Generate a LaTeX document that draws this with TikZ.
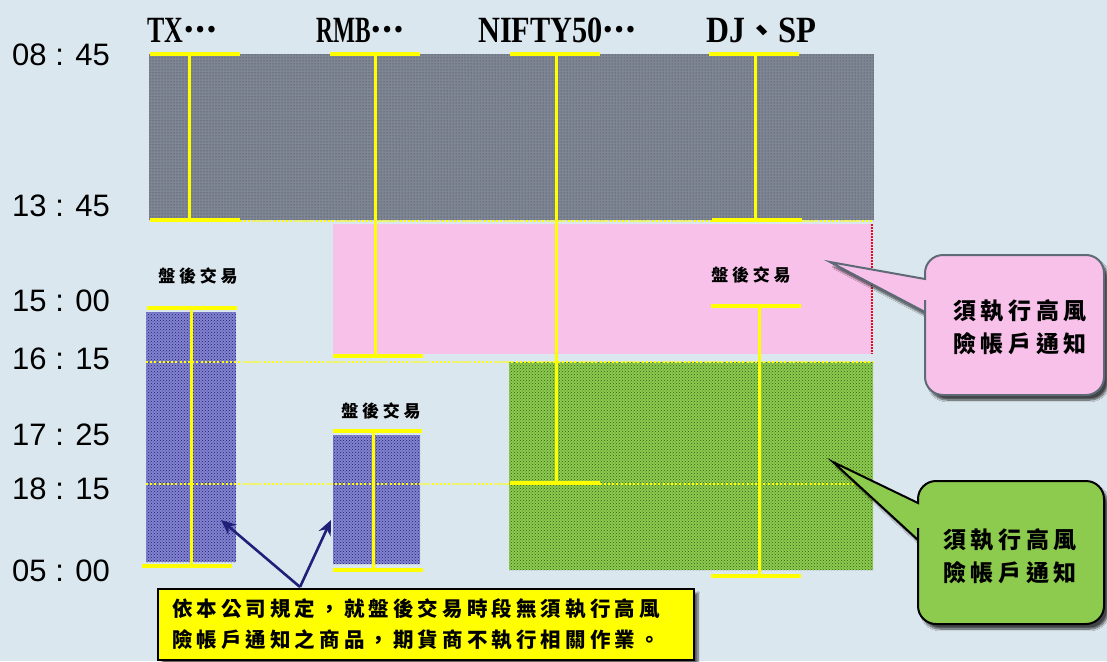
\documentclass[tikz,border=0pt]{standalone}
\usepackage{fontspec}
\usepackage{graphicx}
\setmainfont{Liberation Serif}
\newfontfamily\cjk{Noto Sans CJK TC}
\newfontfamily\sansf{Liberation Sans}
\usetikzlibrary{patterns,arrows.meta,shadows.blur}
\definecolor{bg}{HTML}{DBE7EE}
\definecolor{grayblk}{HTML}{7E8694}
\definecolor{graydot}{HTML}{3A3E46}
\definecolor{pinkblk}{HTML}{F7C1EA}
\definecolor{greenblk}{HTML}{8CCB4E}
\definecolor{greendot}{HTML}{345F1A}
\definecolor{blueblk}{HTML}{8282D4}
\definecolor{bluedot}{HTML}{22225E}
\definecolor{navy}{HTML}{1F2078}
\definecolor{cgray}{HTML}{5E6A76}
\definecolor{barY}{HTML}{FFFF00}
\definecolor{redline}{HTML}{E0101A}
\newcommand\midell[1]{\raisebox{0.28em}{\cjk\fontsize{#1}{#1}\selectfont …}}
\begin{document}
\begin{tikzpicture}[x=1pt,y=-1pt,
  ybar/.style={draw=barY, line width=3.5pt},
  yvert/.style={draw=barY, line width=3pt},
  ydot/.style={draw=barY, line width=1.6pt, dash pattern=on 2pt off 2.2pt},
  timelbl/.style={anchor=west, inner sep=0pt, font=\sansf\fontsize{31}{31}\selectfont},
  toplbl/.style={anchor=base west, inner sep=0pt, font=\bfseries\fontsize{37}{37}\selectfont},
  ahlbl/.style={inner sep=0pt, font=\cjk\bfseries\fontsize{17}{17}\selectfont\addfontfeature{LetterSpace=22}},
  calltext/.style={inner sep=0pt, align=center, font=\cjk\bfseries\fontsize{23}{33}\selectfont\addfontfeature{LetterSpace=20}},
  callshadow/.style={blur shadow={shadow xshift=4pt, shadow yshift=-5pt, shadow blur steps=10, shadow opacity=70}},
  arrow/.style={draw=navy, line width=2.6pt, -{Stealth[length=15pt,width=13pt]}}
]
% background
\fill[bg] (0,0) rectangle (1107,661);
\useasboundingbox (0,0) rectangle (1107,661);

% time labels
\begingroup\spaceskip=0.5em
\node[timelbl] (t0845) at (12,55) {08 : 45};
\node[timelbl] (t1345) at (12,206) {13 : 45};
\node[timelbl] (t1500) at (12,301) {15 : 00};
\node[timelbl] (t1615) at (12,359) {16 : 15};
\node[timelbl] (t1725) at (12,435) {17 : 25};
\node[timelbl] (t1815) at (12,489) {18 : 15};
\node[timelbl] (t0500) at (12,571) {05 : 00};
\endgroup

% top labels
\node[toplbl] (ltx) at (147,43) {\scalebox{0.7}[1]{TX}\midell{30}};
\node[toplbl] (lrmb) at (316,43) {\scalebox{0.63}[1]{RMB}\midell{30}};
\node[toplbl] (lnifty) at (478,43) {\scalebox{0.82}[1]{NIFTY50}\midell{30}};
\node[toplbl] (ldj) at (706,43) {\scalebox{0.86}[1]{DJ}{\cjk\fontsize{33}{33}\selectfont 、}\scalebox{0.88}[1]{SP}};

% day session block
\fill[grayblk] (149,54) rectangle (874,220);
\fill[pattern=dots, pattern color=graydot] (149,54) rectangle (874,220);

% pink block
\fill[pinkblk] (333,224) rectangle (872,354);
\draw[redline, line width=1.6pt, dash pattern=on 2pt off 1pt] (872,224) -- (872,354);

% green block
\fill[greenblk] (509,362) rectangle (873,570);
\fill[pattern=crosshatch dots, pattern color=greendot] (509,362) rectangle (873,570);

% blue blocks
\fill[blueblk] (146,312) rectangle (236,562);
\fill[pattern=crosshatch dots, pattern color=bluedot] (146,312) rectangle (236,562);
\fill[blueblk] (333,435) rectangle (420,564);
\fill[pattern=crosshatch dots, pattern color=bluedot] (333,435) rectangle (420,564);

% dotted yellow guides
\draw[ydot] (240,221) -- (873,221);
\draw[ydot] (146,362) -- (873,362);
\draw[ydot] (146,484) -- (873,484);

% I-bars: day sessions
\draw[ybar] (150,54) -- (240,54);
\draw[ybar] (150,220) -- (240,220);
\draw[yvert] (189,54) -- (189,220);

\draw[ybar] (330,54) -- (420,54);
\draw[ybar] (333,356) -- (423,356);
\draw[yvert] (375,54) -- (375,356);

\draw[ybar] (510,54) -- (600,54);
\draw[ybar] (510,483) -- (600,483);
\draw[yvert] (556,54) -- (556,483);

\draw[ybar] (709,54) -- (799,54);
\draw[ybar] (712,220) -- (802,220);
\draw[yvert] (755,54) -- (755,220);

% I-bars: after-hours
\draw[ybar] (147,308) -- (237,308);
\draw[ybar] (142,566) -- (232,566);
\draw[yvert] (191,308) -- (191,566);

\draw[ybar] (333,431) -- (422,431);
\draw[ybar] (333,570) -- (423,570);
\draw[yvert] (373,431) -- (373,570);

\draw[ybar] (711,306) -- (801,306);
\draw[ybar] (711,576) -- (801,576);
\draw[yvert] (759,306) -- (759,576);

% after-hours labels
\node[ahlbl] (ah1) at (198,276) {盤後交易};
\node[ahlbl] (ah2) at (381,411) {盤後交易};
\node[ahlbl] (ah3) at (751,275) {盤後交易};

% pink callout
\path[fill=pinkblk, draw=cgray, line width=2pt, callshadow]
  (830,262) -- (925,279) -- (925,276) [rounded corners=18pt] -- (925,255) -- (1104,255)
  -- (1104,395) -- (925,395) -- (925,318) [sharp corners] -- (925,312) -- cycle;
\node[calltext] (pinktxt) at (1020,327) {須執行高風\\險帳戶通知};

% green callout
\path[fill=greenblk, draw=black, line width=2pt, callshadow]
  (833,462) -- (918,503) -- (918,500) [rounded corners=18pt] -- (918,481) -- (1104,481)
  -- (1104,624) -- (918,624) -- (918,546) [sharp corners] -- (918,540) -- cycle;
\node[calltext] (greentxt) at (1010,556) {須執行高風\\險帳戶通知};

% note box
\node[anchor=north west, draw=black, line width=2pt, fill=barY, minimum width=536pt, minimum height=71pt,
      text width=508pt, inner xsep=14pt, inner ysep=0pt, align=left,
      font=\cjk\bfseries\fontsize{20.5}{31}\selectfont\addfontfeature{LetterSpace=20},
      blur shadow={shadow xshift=4pt, shadow yshift=-4pt, shadow blur steps=8, shadow opacity=60}]
  (note) at (157,588) {依本公司規定，就盤後交易時段無須執行高風\\險帳戶通知之商品，期貨商不執行相關作業。};

% arrows
\coordinate (src) at (300,587);
\coordinate (tgtA) at (221,520);
\coordinate (tgtB) at (331,520);
\draw[arrow] (src) -- (tgtA);
\draw[arrow] (src) -- (tgtB);
\end{tikzpicture}
\end{document}
